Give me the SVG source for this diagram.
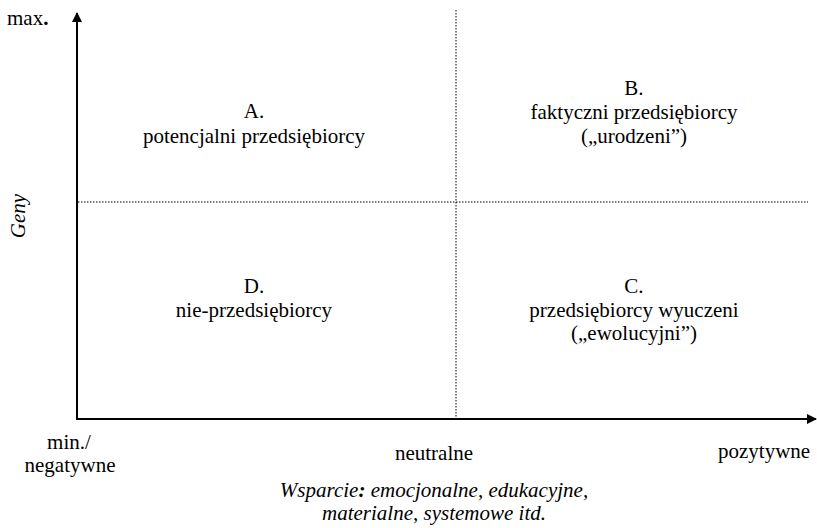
<svg xmlns="http://www.w3.org/2000/svg" width="817" height="528" viewBox="0 0 817 528">
<style>
text{font-family:"Liberation Serif","Times New Roman",serif;font-size:21px;fill:#000}
.c{text-anchor:middle}
.i{font-style:italic}
.axis{stroke:#000;stroke-width:2;fill:none}
.dot{stroke:#000;stroke-width:1;stroke-dasharray:1.5 1.5;fill:none}
</style>
<defs>
<marker id="ah" markerWidth="10" markerHeight="10" refX="9" refY="5" orient="auto" markerUnits="userSpaceOnUse">
<path d="M0,0 L10,5 L0,10 Z" fill="#000"/>
</marker>
</defs>
<g id="connectors">
<line class="dot" x1="456" y1="10" x2="456" y2="418"/>
<line class="dot" x1="78" y1="202" x2="808" y2="202"/>
<line class="axis" x1="77" y1="419" x2="77" y2="13" marker-end="url(#ah)"/>
<line class="axis" x1="76" y1="419" x2="816" y2="419" marker-end="url(#ah)"/>
</g>
<g id="labels">
<text x="7" y="25">max<tspan font-weight="bold">.</tspan></text>
<text class="i c" transform="translate(25,216) rotate(-90)">Geny</text>
<text class="c" x="69" y="449">min./</text>
<text class="c" x="70" y="472">negatywne</text>
<text class="c" x="434" y="460">neutralne</text>
<text x="718" y="458">pozytywne</text>
<text class="i c" x="434" y="497">Wsparcie<tspan font-weight="bold">:</tspan> emocjonalne, edukacyjne,</text>
<text class="i c" x="434" y="520">materialne, systemowe itd.</text>
</g>
<g id="nodeA">
<text class="c" x="254" y="118">A.</text>
<text class="c" x="254" y="143">potencjalni przedsiębiorcy</text>
</g>
<g id="nodeB">
<text class="c" x="634" y="95">B.</text>
<text class="c" x="634" y="119">faktyczni przedsiębiorcy</text>
<text class="c" x="634" y="143">(„urodzeni”)</text>
</g>
<g id="nodeC">
<text class="c" x="634" y="293">C.</text>
<text class="c" x="634" y="317">przedsiębiorcy wyuczeni</text>
<text class="c" x="634" y="340">(„ewolucyjni”)</text>
</g>
<g id="nodeD">
<text class="c" x="254" y="293">D.</text>
<text class="c" x="254" y="317">nie-przedsiębiorcy</text>
</g>
</svg>
